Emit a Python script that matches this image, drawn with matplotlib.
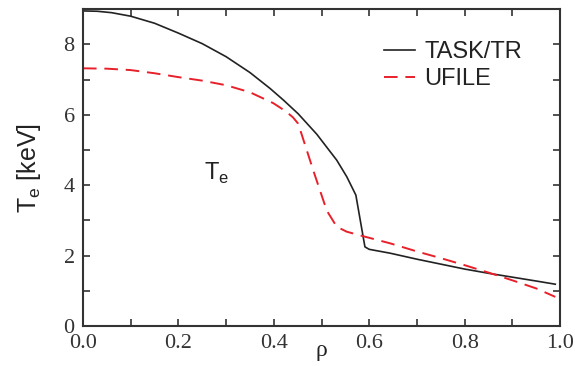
import matplotlib
matplotlib.use('Agg')
import matplotlib.pyplot as plt
from matplotlib.ticker import MultipleLocator

# TASK/TR simulation
rho_task = [0.0, 0.03, 0.06, 0.1, 0.15, 0.2, 0.25, 0.3, 0.35, 0.392, 0.42, 0.451, 0.49, 0.532, 0.553, 0.572,
            0.591, 0.6, 0.644, 0.7, 0.75, 0.8, 0.85, 0.9, 0.95, 0.99]
te_task = [8.95, 8.94, 8.9, 8.8, 8.6, 8.32, 8.02, 7.65, 7.2, 6.75, 6.42, 6.03, 5.45, 4.71, 4.24, 3.72,
           2.25, 2.18, 2.07, 1.9, 1.76, 1.62, 1.5, 1.39, 1.28, 1.19]

# UFILE experimental
rho_ufile = [0.0, 0.05, 0.1, 0.15, 0.2, 0.25, 0.3, 0.35, 0.399, 0.425, 0.44, 0.451, 0.458, 0.483, 0.511,
             0.532, 0.553, 0.588, 0.644, 0.7, 0.75, 0.8, 0.85, 0.9, 0.95, 0.99]
te_ufile = [7.32, 7.31, 7.27, 7.18, 7.07, 6.97, 6.84, 6.64, 6.33, 6.1, 5.93, 5.75, 5.46, 4.41, 3.28,
            2.82, 2.68, 2.55, 2.35, 2.12, 1.93, 1.73, 1.52, 1.3, 1.07, 0.83]

fig = plt.figure(figsize=(5.75, 3.66), dpi=100)
ax = fig.add_axes([0.1443, 0.109, 0.8297, 0.866])

ax.plot(rho_task, te_task, color='#222222', lw=1.2, label='TASK/TR')
ax.plot(rho_ufile, te_ufile, color='#e8202a', lw=1.4, dashes=(7, 4), label='UFILE')

ax.set_xlim(0, 1.0)
ax.set_ylim(0, 9)
ax.xaxis.set_major_locator(MultipleLocator(0.2))
ax.xaxis.set_minor_locator(MultipleLocator(0.1))
ax.yaxis.set_major_locator(MultipleLocator(2))
ax.yaxis.set_minor_locator(MultipleLocator(1))
ax.tick_params(which='both', direction='in', top=True, right=True, length=5,
               width=1.2, color='#333333', labelsize=16)
ax.tick_params(axis='x', pad=6)
ax.tick_params(axis='y', pad=6)
ax.set_xticks([0, 0.2, 0.4, 0.6, 0.8, 1.0])
ax.set_xticklabels(['0.0', '0.2', '0.4', '0.6', '0.8', '1.0'])
for lab in ax.get_xticklabels() + ax.get_yticklabels():
    lab.set_family('Liberation Serif')
    lab.set_color('#333333')
for s in ax.spines.values():
    s.set_linewidth(1.5)
    s.set_color('#333333')

ax.set_xlabel('ρ', family='Liberation Serif', fontsize=17, labelpad=-10, color='#222222')
ax.set_ylabel('T$_\\mathregular{e}$ [keV]', family='Liberation Sans', fontsize=18, color='#222222', labelpad=15)
ax.text(0.28, 4.35, 'T$_\\mathregular{e}$', family='Liberation Sans', fontsize=17, ha='center', va='center', color='#222222')

leg = ax.legend(loc='upper right', bbox_to_anchor=(0.965, 0.965), frameon=False,
                prop={'family': 'Liberation Sans', 'size': 17}, handlelength=1.3,
                handletextpad=0.4, labelspacing=0.2)
for t in leg.get_texts():
    t.set_color('#222222')

fig.savefig('out.png', dpi=100)
